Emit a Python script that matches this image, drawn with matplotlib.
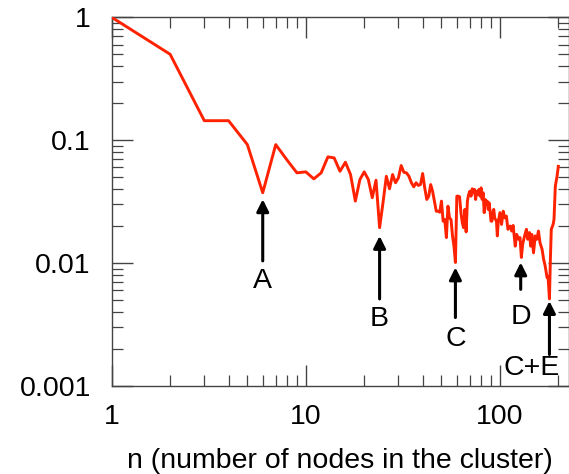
import matplotlib
matplotlib.use("Agg")
import matplotlib.pyplot as plt
from matplotlib.ticker import LogLocator, NullFormatter

plt.rcParams['font.family'] = ['Liberation Sans', 'DejaVu Sans']

# fraction of clusters vs. cluster size n
n_vals = [1, 2, 3, 4, 5, 6, 7, 8, 9, 10,
          11, 12, 13, 14, 15, 16, 17, 18, 19, 20,
          21, 22, 23, 24, 25, 26, 27, 28, 29, 30,
          31, 32, 33, 34, 35, 36, 37, 38, 39, 40,
          41, 42, 43, 44, 45, 46, 47, 48, 49, 50,
          51, 52, 53, 54, 55, 56, 57, 58, 59, 60,
          61, 62, 63, 64, 65, 66, 67, 68, 69, 70,
          71, 72, 73, 74, 75, 76, 77, 78, 79, 80,
          81, 82, 83, 84, 85, 86, 87, 88, 89, 90,
          91, 92, 93, 94, 95, 96, 97, 98,
          100, 102, 104, 106, 108, 110, 113, 115, 117, 120,
          122, 125, 127, 129, 131, 134, 137, 139, 142, 144,
          146, 149, 152, 155, 158, 161, 165, 168, 171, 175,
          177, 180, 182, 184, 188, 190, 193, 197, 200]
p_vals = [1.0, 0.50, 0.144, 0.144, 0.092, 0.0373, 0.092, 0.069, 0.0542, 0.0552,
          0.0484, 0.0542, 0.0731, 0.0717, 0.0558, 0.0661, 0.0525, 0.0319, 0.0478, 0.0552,
          0.0478, 0.0340, 0.0472, 0.0194, 0.0311, 0.0508, 0.0402, 0.0525, 0.0450, 0.0493,
          0.0621, 0.0548, 0.0542, 0.0508, 0.0450, 0.0417, 0.0450, 0.0428, 0.0435, 0.0535,
          0.0409, 0.0329, 0.0350, 0.0435, 0.0384, 0.0319, 0.0264, 0.0264, 0.0259, 0.0319,
          0.0219, 0.0226, 0.0161, 0.0290, 0.0233, 0.0226, 0.0166, 0.0137, 0.0101, 0.0350,
          0.0350, 0.0346, 0.0257, 0.0213, 0.0194, 0.0273, 0.0179, 0.0319, 0.0361, 0.0384,
          0.0350, 0.0402, 0.0373, 0.0397, 0.0329, 0.0384, 0.0361, 0.0397, 0.0350, 0.0409,
          0.0329, 0.0373, 0.0257, 0.0329, 0.0299, 0.0319, 0.0273, 0.0309, 0.0264, 0.0219,
          0.0219, 0.0257, 0.0273, 0.0233, 0.0226, 0.0219, 0.0166, 0.0213,
          0.0257, 0.0206, 0.0264, 0.0233, 0.0241, 0.0188, 0.0200, 0.0182, 0.0202, 0.0137,
          0.0171, 0.0156, 0.0161, 0.0111, 0.0142, 0.0166, 0.0188, 0.0156, 0.0177, 0.0137,
          0.0171, 0.0121, 0.0166, 0.0156, 0.0182, 0.0146, 0.0129, 0.0107, 0.0095, 0.0076,
          0.0078, 0.0051, 0.0107, 0.0188, 0.0206, 0.0226, 0.0422, 0.0508, 0.0612]

# arrow annotations: label, x, tip y, tail y, text x, text y
ann_labels = ["A", "B", "C", "D", "C+E"]
ann_x = [6, 24, 59, 128, 180]
ann_tip = [0.033, 0.0166, 0.0092, 0.0101, 0.0049]
ann_tail = [0.0104, 0.0051, 0.0036, 0.0061, 0.0018]
ann_text_x = [6, 24, 59, 128, 146]
ann_text_y = [0.0071, 0.0035, 0.0024, 0.0036, 0.0014]

x_ticks = [1, 10, 100]
x_ticklabels = ["1", "10", "100"]
y_ticks = [0.001, 0.01, 0.1, 1]
y_ticklabels = ["0.001", "0.01", "0.1", "1"]

fig = plt.figure(figsize=(5.69, 4.74), dpi=100)
ax = fig.add_axes([0.1963, 0.186, 0.8037, 0.7775])

ax.plot(n_vals, p_vals, color="#ff2200", lw=2.1, zorder=3)

for lab, x, tip, tail, tx, ty in zip(ann_labels, ann_x, ann_tip, ann_tail, ann_text_x, ann_text_y):
    ax.annotate("", xy=(x, tip), xytext=(x, tail),
                arrowprops=dict(arrowstyle="-|>", color="black", lw=2.2, mutation_scale=18,
                                shrinkA=0, shrinkB=0))
    ax.text(tx, ty, lab, ha="center", va="center", fontsize=20.5, color="black")

ax.set_xscale("log")
ax.set_yscale("log")
ax.set_xlim(1, 227)
ax.set_ylim(0.001, 1)

ax.set_xticks(x_ticks)
ax.set_xticklabels(x_ticklabels)
ax.set_yticks(y_ticks)
ax.set_yticklabels(y_ticklabels)
ax.xaxis.set_minor_locator(LogLocator(base=10, subs=range(2, 10)))
ax.yaxis.set_minor_locator(LogLocator(base=10, subs=range(2, 10)))
ax.xaxis.set_minor_formatter(NullFormatter())
ax.yaxis.set_minor_formatter(NullFormatter())

ax.tick_params(which="both", direction="in", top=True, right=True, color="#444444")
ax.tick_params(which="major", length=15, width=1.0, labelsize=20.5, pad=13)
ax.tick_params(which="minor", length=8, width=0.9)
ax.tick_params(axis="y", which="major", pad=15)

for s in ax.spines.values():
    s.set_color("#444444")
    s.set_linewidth(1.0)

ax.set_xlabel("n (number of nodes in the cluster)", fontsize=20.5, labelpad=13)

fig.savefig("out.png", dpi=100)
